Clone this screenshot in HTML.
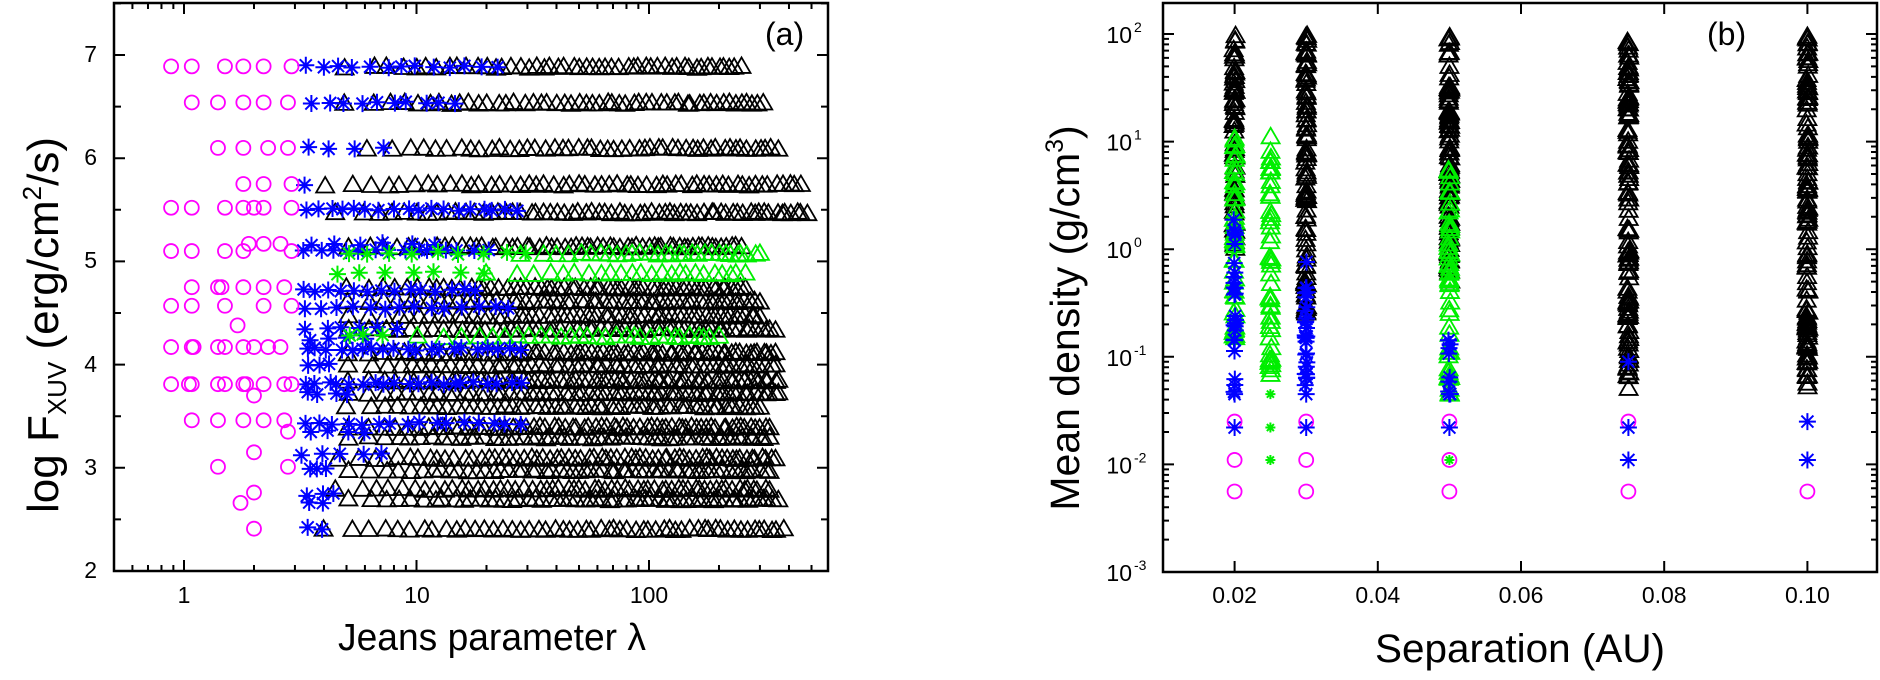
<!DOCTYPE html>
<html><head><meta charset="utf-8"><style>
html,body{margin:0;padding:0;background:#fff;}
svg{display:block;font-family:"Liberation Sans",Arial,sans-serif;}
</style></head><body>
<svg id="s" width="1880" height="680" viewBox="0 0 1880 680" xmlns="http://www.w3.org/2000/svg">
<rect width="1880" height="680" fill="#fff"/>
<g id="dataL"></g>
<g id="dataR"></g>
<g id="axes" stroke="#000" fill="none"></g>
<g font-size="23" fill="#000">
 <text x="97" y="62" text-anchor="end">7</text>
 <text x="97" y="165" text-anchor="end">6</text>
 <text x="97" y="268" text-anchor="end">5</text>
 <text x="97" y="372" text-anchor="end">4</text>
 <text x="97" y="475" text-anchor="end">3</text>
 <text x="97" y="578" text-anchor="end">2</text>
 <text x="184" y="603" text-anchor="middle">1</text>
 <text x="417" y="603" text-anchor="middle">10</text>
 <text x="649" y="603" text-anchor="middle">100</text>
</g>
<text x="338" y="650" font-size="38" textLength="308" lengthAdjust="spacingAndGlyphs">Jeans parameter λ</text>
<text transform="translate(58,325) rotate(-90)" text-anchor="middle" font-size="44">log F<tspan font-size="26" dy="8">XUV</tspan><tspan dy="-8"> (erg/cm</tspan><tspan font-size="26" dy="-17">2</tspan><tspan dy="17">/s)</tspan></text>
<text x="765" y="45" font-size="32">(a)</text>

<g font-size="23" fill="#000" id="rticks"></g>
<text x="1375" y="662" font-size="40" textLength="290" lengthAdjust="spacingAndGlyphs">Separation (AU)</text>
<text transform="translate(1079,318) rotate(-90)" text-anchor="middle" font-size="41">Mean density (g/cm<tspan font-size="25" dy="-16">3</tspan><tspan dy="16">)</tspan></text>
<text x="1707" y="45" font-size="32">(b)</text>
</svg>
<script>
(function(){
var NS="http://www.w3.org/2000/svg";
function el(p,t,a,txt){var e=document.createElementNS(NS,t);for(var k in a)e.setAttribute(k,a[k]);if(txt!=null)e.textContent=txt;p.appendChild(e);return e;}
var seed=12345;function rnd(){seed=(seed*16807)%2147483647;return (seed-1)/2147483646;}
var L=document.getElementById('dataL'),R=document.getElementById('dataR'),A=document.getElementById('axes');
function tri(p,x,y,c){el(p,'path',{d:'M'+(x-9)+' '+(y+7.5)+'L'+x+' '+(y-8)+'L'+(x+9)+' '+(y+7.5)+'Z',fill:'none',stroke:c,'stroke-width':1.8});}
function cir(p,x,y){el(p,'ellipse',{cx:x,cy:y,rx:7,ry:7,fill:'none',stroke:'#ff00ff','stroke-width':1.8});}
function star(p,x,y,c,r){r=r||8.5;var d='';for(var i=0;i<4;i++){var a=i*Math.PI/4,dx=r*Math.cos(a),dy=r*Math.sin(a);d+='M'+(x-dx)+' '+(y-dy)+'L'+(x+dx)+' '+(y+dy);}el(p,'path',{d:d,stroke:c,'stroke-width':2,fill:'none'});}
function LX(l){return 184+232.5*Math.log10(l);}function LY(v){return 571-103.2*(v-2);}
var G='#00ee00',B='#0000ff',K='#000';
function triRow(v,a,b,n,c){var la=Math.log10(a),lb=Math.log10(b);for(var i=0;i<n;i++){var t=i/(n-1);t=Math.pow(t,0.7);var l=la+(lb-la)*t+(rnd()-0.5)*0.02;if(i==n-1)l=lb;tri(L,LX(Math.pow(10,l)),LY(v)+(rnd()-0.5)*2,c);}}
var tr=[[6.89,5,250,50],[6.54,5,310,52],[6.10,6,360,50],[5.75,4,450,55],[5.48,4.5,480,65],[5.15,5,250,60],[4.75,5,260,60],[4.62,5,300,60],[4.48,5,300,60],[4.35,5,350,60],[4.12,5,350,70],[4.0,5,350,60],[3.85,5,360,70],[3.73,5,360,65],[3.6,5,300,60],[3.40,5,330,65],[3.30,5,330,60],[3.1,4.5,350,65],[2.98,5,330,60],[2.8,4.5,330,60],[2.7,5,360,60],[2.41,4,380,55]];
tr.forEach(function(r){triRow(r[0],r[1],r[2],r[3],K);});
triRow(5.08,28,300,30,G);triRow(4.89,20,260,24,G);triRow(4.28,10,200,30,G);
function starRow(v,a,b,n,c){var la=Math.log10(a),lb=Math.log10(b);for(var i=0;i<n;i++){var l=n==1?la:la+(lb-la)*i/(n-1)+(rnd()-0.5)*0.03;star(L,LX(Math.pow(10,l)),LY(v)+(rnd()-0.5)*3,c);}}
var sr=[[6.89,3.4,22,13],[6.54,3.5,15,10],[6.10,3.4,7,4],[5.75,3.3,3.3,1],[5.50,3.3,28,18],[5.10,3.3,20,14],[5.17,3.5,12,6],[4.72,3.3,18,14],[4.55,3.3,25,14],[4.35,3.4,8,6],[4.25,3.4,6,4],[4.15,3.3,28,20],[4.0,3.4,4.2,3],[3.82,3.3,28,20],[3.72,3.4,5,4],[3.43,3.3,28,16],[3.35,3.4,6,4],[3.13,3.3,7,5],[2.98,3.4,4.2,3],[2.74,3.3,4.5,3],[2.65,3.4,4,2],[2.41,3.3,4,2]];
sr.forEach(function(r){starRow(r[0],r[1],r[2],r[3],B);});
starRow(5.08,5,30,9,G);starRow(4.89,4.5,20,7,G);starRow(4.28,5,7,3,G);
var cr=[[6.89,[0.88,1.08,1.5,1.8,2.2,2.9]],[6.54,[1.08,1.4,1.8,2.2,2.8]],[6.10,[1.4,1.8,2.3,2.8]],[5.75,[1.8,2.2,2.9]],[5.52,[0.88,1.08,1.5,1.8,2.0,2.2,2.9]],[5.10,[0.88,1.08,1.5,1.8,2.9]],[5.17,[1.9,2.2,2.6]],[4.75,[1.08,1.4,1.45,1.8,2.2,2.7]],[4.57,[0.88,1.08,1.5,2.2,2.9]],[4.38,[1.7]],[4.17,[0.88,1.08,1.1,1.4,1.5,1.8,2.0,2.3,2.6]],[3.81,[0.88,1.05,1.08,1.4,1.5,1.8,1.85,2.2,2.7,2.9]],[3.70,[2.0]],[3.46,[1.08,1.4,1.8,2.2,2.7]],[3.35,[2.8]],[3.01,[1.4,2.8]],[3.15,[2.0]],[2.76,[2.0]],[2.66,[1.75]],[2.41,[2.0]]];
cr.forEach(function(r){r[1].forEach(function(l){cir(L,LX(l),LY(r[0]));});});
function RX(s){return 1163+(s-0.01)*7160;}function RY(d){return 34+107.6*(2-Math.log10(d));}
function col(s,a,b,n,c,kind){var la=Math.log10(a),lb=Math.log10(b);for(var i=0;i<n;i++){var l=la+(lb-la)*rnd();var x=RX(s)+(rnd()-0.5)*2,y=RY(Math.pow(10,l));if(kind=='t')tri(R,x,y,c);else star(R,x,y,c,kind=='s'?8.5:5);}}
col(0.02,1,100,70,K,'t');col(0.02,0.15,12,50,G,'t');col(0.02,0.045,2,26,B,'s');
col(0.025,0.07,12,50,G,'t');
col(0.03,0.25,100,100,K,'t');col(0.03,0.045,0.8,28,B,'s');
col(0.05,0.5,100,110,K,'t');col(0.05,0.04,6,50,G,'t');col(0.05,0.045,0.2,10,B,'s');
col(0.075,0.05,100,130,K,'t');
col(0.10,0.05,100,130,K,'t');
[[0.02,0.025],[0.02,0.011],[0.02,0.0056],[0.03,0.025],[0.03,0.011],[0.03,0.0056],[0.05,0.025],[0.05,0.011],[0.05,0.0056],[0.075,0.025],[0.075,0.0056],[0.10,0.0056]].forEach(function(p){cir(R,RX(p[0]),RY(p[1]));});
[[0.02,0.022],[0.03,0.022],[0.05,0.022],[0.075,0.022],[0.075,0.011],[0.075,0.09],[0.10,0.025],[0.10,0.011],[0.02,0.045],[0.03,0.045],[0.05,0.045]].forEach(function(p){star(R,RX(p[0]),RY(p[1]),B);});
[[0.025,0.045],[0.025,0.022],[0.025,0.011],[0.05,0.011]].forEach(function(p){star(R,RX(p[0]),RY(p[1]),G,5);});
el(A,'rect',{x:114,y:3,width:714,height:568,'stroke-width':2.5});
el(A,'rect',{x:1163,y:3,width:714,height:569,'stroke-width':2.5});
var d='';
for(var dec=-1;dec<=2;dec++)for(var m=1;m<10;m++){var v=m*Math.pow(10,dec);var x=LX(v);if(x<116||x>826)continue;var len=m==1?11:6;d+='M'+x+' 571v'+(-len)+'M'+x+' 3v'+len;}
for(var v=2;v<=7.5;v+=0.5){var y=LY(v);var len=(v%1==0)?11:7;d+='M114 '+y+'h'+len+'M828 '+y+'h'+(-len);}
for(var s=0.02;s<=0.101;s+=0.02){var x=RX(s);d+='M'+x+' 572v-11M'+x+' 3v11';}
for(var e=-3;e<=2;e++)for(var m=1;m<10;m++){var y=RY(m*Math.pow(10,e));if(y<5)continue;var len=m==1?11:6;d+='M1163 '+y+'h'+len+'M1877 '+y+'h'+(-len);}
el(A,'path',{d:d,'stroke-width':2});
var T=document.getElementById('rticks');
['0.02','0.04','0.06','0.08','0.10'].forEach(function(t,i){el(T,'text',{x:RX(0.02*(i+1)),y:603,'text-anchor':'middle'},t);});
for(var e=-3;e<=2;e++){var y=RY(Math.pow(10,e));el(T,'text',{x:1132,y:y+9,'text-anchor':'end'},'10');el(T,'text',{x:1134,y:y-2,'font-size':14},String(e));}
})();
</script>
</body></html>
